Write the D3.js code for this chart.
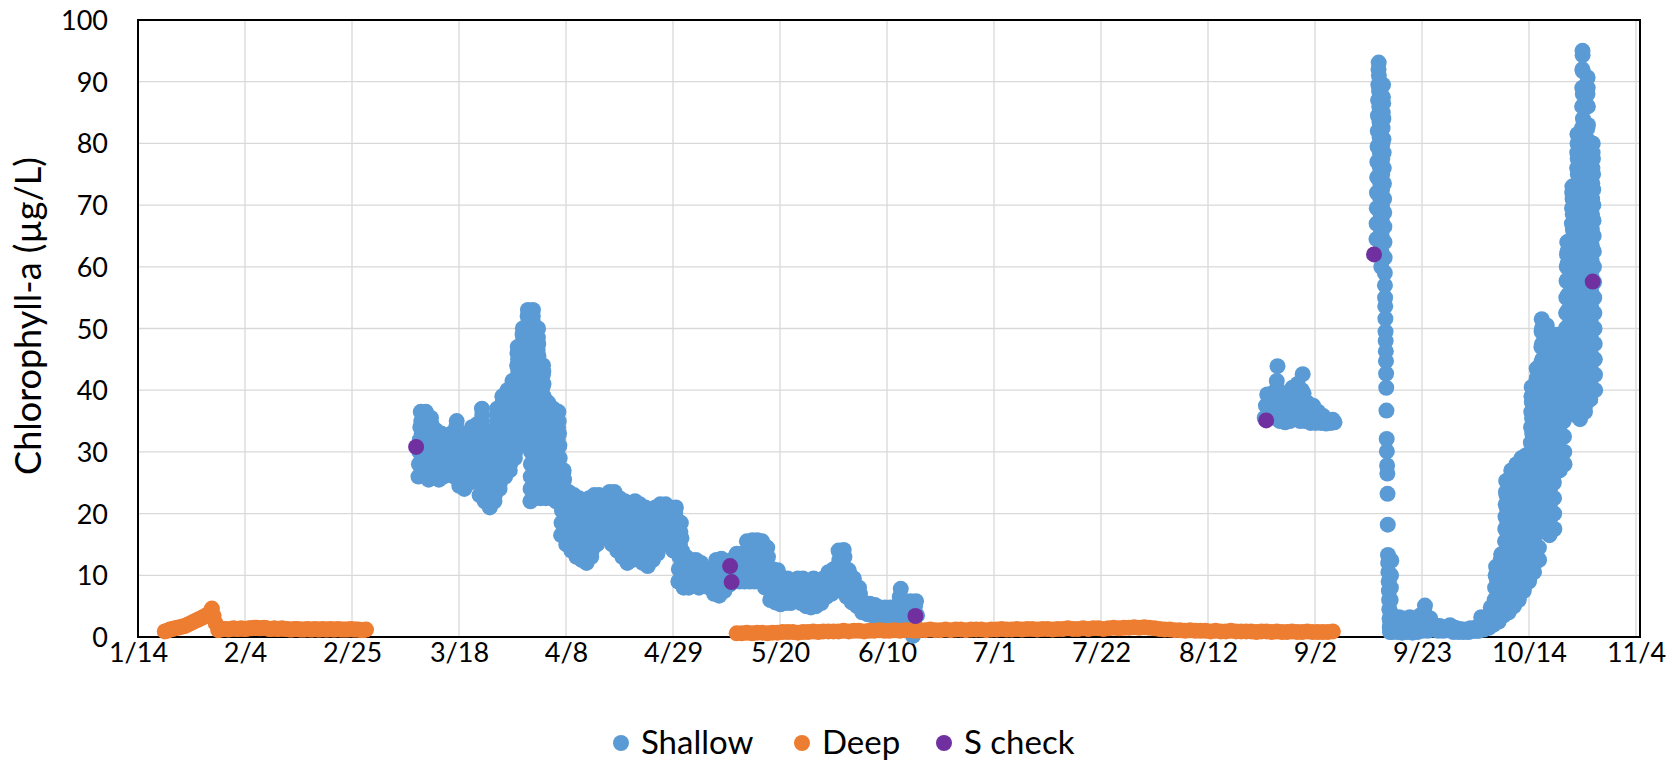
<!DOCTYPE html>
<html>
<head>
<meta charset="utf-8">
<script src="https://cdn.jsdelivr.net/npm/d3@7"></script>
<style>
  body { margin: 0; background: #fff; }
  svg { display: block; }
  text { font-family: Lato, "Open Sans", sans-serif; fill: #000; }
</style>
</head>
<body>
<svg id="chart" width="1679" height="761"></svg>
<script>
// ---- data -------------------------------------------------------------
const YEAR = 2019;
const xTickLabels = ["1/14","2/4","2/25","3/18","4/8","4/29","5/20","6/10","7/1","7/22","8/12","9/2","9/23","10/14","11/4"];
const yTickValues = [0,10,20,30,40,50,60,70,80,90,100];
const yTitle = "Chlorophyll-a (µg/L)";
const seriesNames = ["Shallow","Deep","S check"];
const seriesColors = ["#5B9BD5","#ED7D31","#7030A0"];

// Sonde readings: each inner list holds the samples logged during one day,
// the first list belonging to the start date.
const shallowSpringStart = "3/10";
const shallowSpring = [
  [26,28,30,32,34,36.5,35,33,31,29,27],
  [26.5,28.5,30.5,32.5,34.5,36.5,35.5,33.5,31.5,29.5,27.5],
  [25.5,27.5,29.5,31.5,33.5,35.5,34.5,32.5,30.5,28.5,26.5],
  [26,28,30,32,33.5,32.5,30.5,28.5,26.5],
  [25.5,27.5,29.5,31.5,33,32,30,28,26],
  [27,29,31,32.5,31.5,29.5,28],
  [27.5,29.5,31.5,33,32,30,28.5],
  [26,28,30,32,34,35,33,31,29,27],
  [24.5,26.5,28.5,30.5,32.5,33,31.5,29.5,27.5,25.5],
  [24,26,28,30,32,32.5,31,29,27,25],
  [25,27,29,31,33,34,32,30,28,26],
  [26,28,30,32,34,34.5,33,31,29,27],
  [23,25,27,29,31,33,35,37,36,34,32,30,28,26,24],
  [22,24,26,28,30,32,33,31,29,27,25,23],
  [21,23,25,27,29,31,30,28,26,24,22],
  [23,25,27,29,31,33,35,37,36,34,32,30,28,26,24],
  [25,27,29,31,33,35,37,39,38,36,34,32,30,28,26],
  [26,28,30,32,34,36,38,40,39,37,35,33,31,29,27],
  [28,30,32,34,36,38,40,41.5,40.5,39,37,35,33,31,29],
  [30,32,34,36,38,40,42,44,46,47,45,43,41,39,37,35,33,31],
  [33,35,37,39,41,43,45,47,49,50,48,46,44,42,40,38,36,34],
  [36,38,40,42,44,46,48,50,52,53,51,49,47,45,43,41,39,37],
  [22,24,26,28,30,32,34,36,38,40,42,44,46,48,50,52,53,51,49,47,45,43,41,39,37,35,33,31,29,27,25,23],
  [22.5,24.5,26.5,28.5,30.5,32.5,34.5,36.5,38.5,40.5,42.5,44.5,46.5,48.5,50,47.5,45.5,43.5,41.5,39.5,37.5,35.5,33.5,31.5,29.5,27.5,25.5,23.5],
  [22.5,24.5,26.5,28.5,30.5,32.5,34.5,36.5,38.5,40.5,42.5,44,43,41,39,37,35,33,31,29,27,25,23],
  [22.5,24.5,26.5,28.5,30.5,32.5,34.5,36.5,38,37,35,33,31,29,27,25,23],
  [22.5,24.5,26.5,28.5,30.5,32.5,34.5,37,36,34,32,30,28,26,24],
  [22,24,26,28,30,32,34,36.5,35,33,31,29,27,25,23],
  [16.5,18.5,20.5,22.5,24.5,26.5,27,25.5,23.5,21.5,19.5,17.5],
  [15,17,19,21,23.5,22,20,18,16],
  [14,16,18,20,22,23,21,19,17,15],
  [13,15,17,19,21,22.5,20.5,18.5,16.5,14.5],
  [12.5,14.5,16.5,18.5,20.5,21.5,19.5,17.5,15.5,13.5],
  [12,14,16,18,20,22,22.5,21,19,17,15,13],
  [14,16,18,20,22,23,21,19,17,15],
  [15,17,19,21,23,22,20,18,16],
  [16,18,20,22,22.5,21,19,17],
  [16,18,20,22,23.5,21.5,19.5,17.5],
  [15,17,19,21,23.5,22,20,18,16],
  [14,16,18,20,22.5,21,19,17,15],
  [13,15,17,19,21,22,20,18,16,14],
  [12,14,16,18,20,21.5,19.5,17.5,15.5,13.5],
  [12.5,14.5,16.5,18.5,20.5,22,20,18,16,14],
  [13,15,17,19,21.5,20,18,16,14],
  [12,14,16,18,20,21,19,17,15,13],
  [11.5,13.5,15.5,17.5,19.5,20.5,18.5,16.5,14.5,12.5],
  [12.5,14.5,16.5,18.5,20.5,21,19.5,17.5,15.5,13.5],
  [14,16,18,20,21.5,20.5,18.5,16.5,15],
  [15,17,19,21,21.5,20,18,16],
  [16,18,20,21,19,17],
  [14,16,18,20,21,19,17,15],
  [9,11,13,15,17,18.5,16,14,12,10],
  [8,10,12,13,11,9],
  [8,10,12,12.5,11,9],
  [8.5,10.5,12.5,11.5,9.5],
  [8,10,12,11,9],
  [8.3,10,11,9.5],
  [8,9.5,11,10,9],
  [7,9,11,12.5,11.5,9.5,8],
  [6.7,8.5,10.5,12.7,11.5,9.5,7.5],
  [7.5,9.5,11.5,10.5,8.5],
  [8.5,10.5,12.5,11.5,9.5],
  [9,11,13.5,12.5,10.5],
  [9,11,13,13.5,12,10],
  [9,11,13,15.5,14,12,10],
  [9,11,13,15,15.7,14,12,10],
  [9,11,13,15,15.7,14,12,10],
  [9,11,13,15.5,14,12,10],
  [8,10,12,14.5,13,11,9],
  [6,8,10,11,9,7],
  [5.6,7.5,9.5,10.8,8.5,6.5],
  [5.3,7.3,9.2,8.3,6.3],
  [5.5,7.5,9.5,8.5,6.5],
  [5.5,7.5,9,8,6.5],
  [6,8,9.5,8.5,7],
  [5.5,7.5,9.5,8.5,6.5],
  [5,7,9,8,6],
  [4.8,6.8,8.8,9.5,7.8,5.8],
  [5,7,9,8,6],
  [5.5,7.5,9.5,8.5,6.5],
  [6.5,8.5,10.5,9.5,7.5],
  [7,9,11,10,8],
  [7.5,9.5,11.5,14,12.5,10.5,8.5],
  [7.8,9.8,11.8,14.1,13,11,9],
  [6.5,8.5,10.8,9.5,7.5],
  [5.6,7.5,9.5,8.5,6.5],
  [5,6.5,8,7,5.5],
  [4,5,5.5,4.5],
  [3.7,4.5,5.4,4.5],
  [3.5,4.5,5.2,4],
  [3.4,4.3,4.8,4],
  [3.4,4,4.8,3.8],
  [3.5,4.2,4.8,4],
  [3,4,5],
  [3,4.5,6.5,7.8,5.5],
  [2.5,4,5.8,4.5],
  [1.5,3.5,5.8,4],
  [0.2,2.5,5,5.8,3.5]
];

const shallowAugStart = "8/23";
const shallowAug = [
  [35.5,37.5,39.3,37],[36,38,39.5,37],[35.5,38,40,41.5,43.9,40,37],[35,37,39,37.5,35.5],
  [34.8,36.5,37.7,36],[35,37,39,40.4,38,36],[35.5,37.5,39.5,41,38.5,36],[35,37.5,40,42.6,39.5,36.5],
  [35,36.5,38,37,35.5],[34.7,36,37.5,36],[34.7,35.5,36.5,35.5],[34.7,35.3,35.8,35],
  [34.6,35.2,34.8],[34.7,35.2,34.8]
];

const shallowFallStart = "9/14";
const shallowFall = [
  [62,64.5,67,69.5,72,74.5,77,79.5,82,84.5,87,89.5,92,93.1,91,88.5,86,83.5,81,78.5,76,73.5,71,68.5,66,63.5,61.5],
  [60,62.5,65,67.5,70,72.5,75,77.5,80,82.5,85,87.5,89.5,86.5,84,80.7,78.5,76,73.5,71,68.8,66.5,64,61.5,59,57,55,53.6,51.6,49.5,48,46.3,44.7,42.7,40.4],
  [36.7,32.1,30.1,27.8,26.5,23.2,18.2,13.3,12,10.5,9,7.5,6,4.5,3,1.5,0.8,2,4,6,8,10,12.4],
  [0.8,1.8,3.2,2,1],[0.8,2,3.2,2.2,1.2],[0.7,1.8,3,2,1],[0.8,2,3.2,1.8],
  [0.7,1.8,2.8,1.5],[0.8,2,3.5,2.2],[1,2.5,4,5.1,3.5,2],[1,2,3,1.8],
  [1.2,1.9,1.4],[1,1.8,1.2],[1,1.6,1.1],[1.1,1.9,1.3],[0.8,1.5,1],[0.8,1.3,0.9],
  [0.8,1.2,0.9],[0.8,1.4,1],[1,1.5,1],[1,2,3.2,2.2],[1.2,2.5,3.2,2],[1.5,3,4.8,3.5,2],
  [2,4,6,8,10,11.4,9.5,7.5,5.5,3.5],
  [2.5,4.5,6.5,8.5,10.5,12.5,13.4,11.5,9.5,7.5,5.5,3.5],
  [3.5,5.5,7.5,9.5,11.5,13.5,15.5,17.5,19.5,21.5,23.5,25.3,23,21,19,17,15,13,11,9,7,5],
  [4,6,8,10,12,14,16,18,20,22,24,26,27,25,23,21,19,17,15,13,11,9,7,5],
  [5,7,9,11,13,15,17,19,21,23,25,27,28,26,24,22,20,18,16,14,12,10,8,6],
  [6.5,8.5,10.5,12.5,14.5,16.5,18.5,20.5,22.5,24.5,26.5,28.5,29,27,25,23,21,19,17,15,13,11,9,7.5],
  [8.2,10.2,12.2,14.2,16.2,18.2,20.2,22.2,24.2,26.2,28.2,29.5,28,26,24,22,20,18,16,14,12,10,9],
  [9.2,11.5,14,16.5,19,21.5,24,26.5,29,31.5,34,36.5,39,40.5,38,35.5,33,30.5,28,25.5,23,20.5,18,15.5,13,10.5],
  [11.8,14,16.5,19,21.5,24,26.5,29,31.5,34,36.5,39,41.5,43.5,42,39.5,37,34.5,32,29.5,27,24.5,22,19.5,17,14.5,12.5],
  [17,19.5,22,24.5,27,29.5,32,34.5,37,39.5,42,44.5,47,49.5,51.5,50,47.5,45,42.5,40,37.5,35,32.5,30,27.5,25,22.5,20,18],
  [18,20.5,23,25.5,28,30.5,33,35.5,38,40.5,43,45.5,48,50.5,49,46.5,44,41.5,39,36.5,34,31.5,29,26.5,24,21.5,19],
  [16.5,19,21.5,24,26.5,29,31.5,34,36.5,39,41.5,44,46.5,49,47.5,45,42.5,40,37.5,35,32.5,30,27.5,25,22.5,20,17.5],
  [26.4,29,31.5,34,36.5,39,41.5,44,46.5,49,47.5,45,42.5,40,37.5,35,32.5,30,27.5],
  [27,29.5,32,34.5,37,39.5,42,44.5,47,49,47.5,45,42.5,40,37.5,35,32.5,30,28],
  [37.6,40,42.5,45,47.5,50,52.5,55,57.7,60,62,64,62.5,60.5,58,55.5,53,50.5,48,45.5,43,40.5,38.5],
  [37,39.5,42,44.5,47,49.5,52,54.5,57,59.5,62,64.5,67,69.5,72,73,71,68.5,66,63.5,61,58.5,56,53.5,51,48.5,46,43.5,41,38.5],
  [36,38.5,41,43.5,46,48.5,51,53.5,56,58.5,61,63.5,66,68.5,71,73.5,76,78.5,81.5,80,77.5,75,72.5,70,67.5,65,62.5,60,57.5,55,52.5,50,47.5,45,42.5,40,37.5],
  [35.3,37.5,40,42.5,45,47.5,50,52.5,55,57.5,60,62.5,65,67.5,70,72.5,75,77.5,80,82.5,86,89,92,95,94.3,91.7,88,84,81.5,79,76.5,74,71.5,69,66.5,64,61.5,59,56.5,54,51.5,49,46.5,44,41.5,39,36.5],
  [37.5,40,42.5,45,47.5,50,52.5,55,57.5,60,62.5,65,67.5,70,72.5,75,77.5,80,82.4,86,88,90.7,89,86,83,80.5,78,75.5,73,70.5,68,65.5,63,60.5,58,55.5,53,50.5,48,45.5,43,40.5,38.5],
  [38.5,41,43.5,46,48.5,51,53.5,56,58.5,61,63.5,66,68.5,71,73.5,76,78.5,80,77.5,75,72.5,70,67.5,65,62.5,60,57.5,55,52.5,50,47.5,45,42.5,40]
];

const deepWinterStart = "1/19";
const deepWinter = [
  [0.9,1.0],[1.2,1.3],[1.4,1.5],[1.6,1.7],[1.8,2.0],[2.2,2.4],[2.6,2.8],[3.0,3.2],[3.4,3.7],[4.0,4.6,3.4],
  [2.2,1.1],[1.2,1.3],[1.3,1.2],[1.3,1.4],[1.3,1.3],[1.4,1.3],[1.3,1.4],[1.4,1.5],[1.5,1.4],[1.4,1.5],
  [1.4,1.3],[1.3,1.4],[1.3,1.3],[1.4,1.3],[1.3,1.2],[1.2,1.3],[1.3,1.2],[1.2,1.2],[1.3,1.2],[1.2,1.3],
  [1.2,1.2],[1.3,1.2],[1.2,1.3],[1.2,1.2],[1.3,1.2],[1.2,1.2],[1.2,1.3],[1.2,1.2],[1.2,1.1],[1.1,1.2]
];

// one reading per day
const deepSummerStart = "5/11";
const deepSummer = [
  0.6,0.6,0.7,0.6,0.7,0.7,0.6,0.7,0.7,0.8,
  0.8,0.8,0.7,0.8,0.8,0.9,0.8,0.9,0.9,0.9,
  0.9,1.0,0.9,1.0,1.0,0.9,1.0,1.0,1.1,1.0,
  1.0,1.1,1.0,1.1,1.1,1.0,1.1,1.1,1.2,1.1,
  1.1,1.2,1.1,1.2,1.2,1.1,1.2,1.2,1.2,1.1,
  1.2,1.2,1.3,1.2,1.2,1.3,1.2,1.3,1.3,1.2,
  1.3,1.3,1.2,1.3,1.3,1.4,1.3,1.3,1.4,1.3,
  1.4,1.4,1.3,1.4,1.5,1.4,1.5,1.5,1.6,1.5,
  1.6,1.5,1.4,1.3,1.2,1.2,1.1,1.1,1.0,1.1,
  1.0,1.0,1.0,0.9,1.0,0.9,0.9,1.0,0.9,0.9,
  0.9,0.9,0.8,0.9,0.9,0.8,0.9,0.8,0.8,0.9,
  0.8,0.8,0.9,0.8,0.8,0.8,0.8,0.9
];

const sCheckTimes = ["3/9 14:00","5/10 05:00","5/10 12:00","6/15 14:00","8/23 10:00","9/13 14:00","10/26 12:00"];
const sCheckValues = [30.8, 11.5, 8.9, 3.4, 35.1, 62.0, 57.6];

// ---- helpers ----------------------------------------------------------
const DAY = 864e5;
function parseDate(s) {
  const [md, hm] = s.split(" ");
  const [m, d] = md.split("/").map(Number);
  const [h, mi] = hm ? hm.split(":").map(Number) : [0, 0];
  return new Date(Date.UTC(YEAR, m - 1, d, h, mi));
}
// spread each day's samples evenly over that day
function expandDays(start, rows) {
  const t0 = parseDate(start).getTime();
  const pts = [];
  rows.forEach((vals, k) => {
    vals.forEach((v, i) => pts.push({ t: new Date(t0 + (k + (i + 0.5) / vals.length) * DAY), v }));
  });
  return pts;
}

const shallowPts = [
  ...expandDays(shallowSpringStart, shallowSpring),
  ...expandDays(shallowAugStart, shallowAug),
  ...expandDays(shallowFallStart, shallowFall)
];
const deepPts = [
  ...expandDays(deepWinterStart, deepWinter),
  ...expandDays(deepSummerStart, deepSummer.map(v => [v]))
];
const checkPts = sCheckTimes.map((s, i) => ({ t: parseDate(s), v: sCheckValues[i] }));

// ---- layout -----------------------------------------------------------
const svg = d3.select("#chart");
const plot = { left: 138, right: 1636, top: 20, bottom: 637, frameRight: 1640 };
const R = 8;

const xTickDates = xTickLabels.map(parseDate);
const x = d3.scaleUtc()
  .domain([xTickDates[0], xTickDates[xTickDates.length - 1]])
  .range([plot.left, plot.right]);
const y = d3.scaleLinear().domain([0, 100]).range([plot.bottom, plot.top]);

svg.append("rect").attr("width", 1679).attr("height", 761).attr("fill", "#fff");

// gridlines
const grid = svg.append("g").attr("stroke", "#d9d9d9").attr("stroke-width", 1.3);
grid.selectAll("line.v").data(xTickDates.slice(1)).join("line")
  .attr("x1", d => x(d)).attr("x2", d => x(d))
  .attr("y1", plot.top).attr("y2", plot.bottom);
grid.selectAll("line.h").data(yTickValues.slice(1)).join("line")
  .attr("x1", plot.left).attr("x2", plot.frameRight)
  .attr("y1", d => y(d)).attr("y2", d => y(d));

// plot frame
svg.append("rect")
  .attr("x", plot.left).attr("y", plot.top)
  .attr("width", plot.frameRight - plot.left).attr("height", plot.bottom - plot.top)
  .attr("fill", "none").attr("stroke", "#000").attr("stroke-width", 2);

// axes
const xAxis = svg.append("g")
  .attr("transform", `translate(0,${plot.bottom})`)
  .call(d3.axisBottom(x).tickValues(xTickDates).tickFormat(d3.utcFormat("%-m/%-d")).tickSize(0));
xAxis.select(".domain").remove();
xAxis.selectAll("text").attr("y", 25).attr("dy", null)
  .style("font-size", "27px").style("font-family", "Lato, sans-serif").attr("fill", "#000");

const yAxis = svg.append("g")
  .attr("transform", `translate(${plot.left},0)`)
  .call(d3.axisLeft(y).tickValues(yTickValues).tickSize(0).tickPadding(30));
yAxis.select(".domain").remove();
yAxis.selectAll("text").attr("dy", "0.355em")
  .style("font-size", "27px").style("font-family", "Lato, sans-serif").attr("fill", "#000");

// axis title
svg.append("text")
  .attr("transform", `translate(41,316) rotate(-90)`)
  .attr("text-anchor", "middle")
  .style("font-size", "36px")
  .text(yTitle);

// series
const layers = [shallowPts, deepPts, checkPts];
layers.forEach((pts, i) => {
  svg.append("g").attr("fill", seriesColors[i])
    .selectAll("circle").data(pts).join("circle")
    .attr("cx", d => x(d.t)).attr("cy", d => y(d.v)).attr("r", R);
});

// legend
const legendX = [621, 802, 944];
const legend = svg.append("g");
seriesNames.forEach((name, i) => {
  legend.append("circle").attr("cx", legendX[i]).attr("cy", 743).attr("r", 8).attr("fill", seriesColors[i]);
  legend.append("text").attr("x", legendX[i] + 20).attr("y", 754).style("font-size", "33px").text(name);
});
</script>
</body>
</html>
